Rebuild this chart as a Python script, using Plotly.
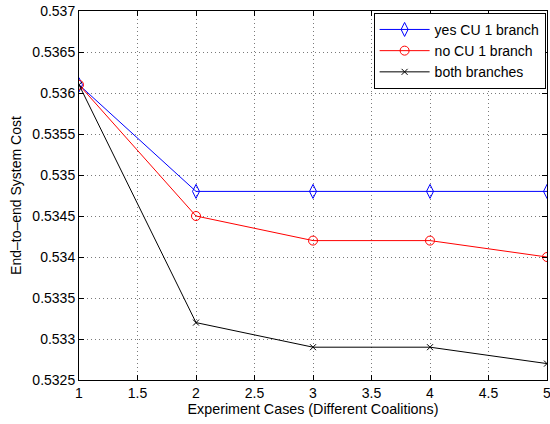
import plotly.graph_objects as go

cases = [1, 2, 3, 4, 5]
yes_cu = [0.5361, 0.5348, 0.5348, 0.5348, 0.5348]
no_cu = [0.5361, 0.5345, 0.5342, 0.5342, 0.5340]
both = [0.5361, 0.5332, 0.5329, 0.5329, 0.5327]

xticks = [1, 1.5, 2, 2.5, 3, 3.5, 4, 4.5, 5]
xticklabels = ["1", "1.5", "2", "2.5", "3", "3.5", "4", "4.5", "5"]
yticks = [0.5325, 0.533, 0.5335, 0.534, 0.5345, 0.535, 0.5355, 0.536, 0.5365, 0.537]
yticklabels = ["0.5325", "0.533", "0.5335", "0.534", "0.5345", "0.535", "0.5355", "0.536", "0.5365", "0.537"]

FONT = "Liberation Sans, Arial, Helvetica"

fig = go.Figure()
fig.add_trace(go.Scatter(x=cases, y=yes_cu, mode="lines+markers", name="yes CU 1 branch",
                         line=dict(color="#0000ff", width=1),
                         marker=dict(symbol="diamond-tall-open", size=10, color="#0000ff", line=dict(width=1))))
fig.add_trace(go.Scatter(x=cases, y=no_cu, mode="lines+markers", name="no CU 1 branch",
                         line=dict(color="#ff0000", width=1),
                         marker=dict(symbol="circle-open", size=9, color="#ff0000", line=dict(width=1))))
fig.add_trace(go.Scatter(x=cases, y=both, mode="lines+markers", name="both branches",
                         line=dict(color="#000000", width=1),
                         marker=dict(symbol="x-thin-open", size=6, color="#000000", line=dict(width=1, color="#000000"))))

axis_common = dict(showline=True, linecolor="black", linewidth=1, mirror="ticks",
                   ticks="inside", ticklen=5, tickcolor="black",
                   showgrid=True, gridcolor="#7a7a7a", griddash="1px,3px", gridwidth=1,
                   zeroline=False, ticklabeloverflow="allow", automargin=False,
                   tickfont=dict(family=FONT, size=14, color="black"))

fig.update_layout(
    width=550, height=424,
    margin=dict(l=79, r=3, t=11, b=44),
    plot_bgcolor="white", paper_bgcolor="white",
    font=dict(family=FONT, size=14, color="black"),
    xaxis=dict(range=[1, 5], tickvals=xticks, ticktext=xticklabels,
               title=dict(text="Experiment Cases (Different Coalitions)", standoff=2, font=dict(size=14.3)),
               **axis_common),
    yaxis=dict(range=[0.5325, 0.537], tickvals=yticks, ticktext=yticklabels,
               title=dict(text="End\u2013to\u2013end System Cost", standoff=7, font=dict(size=14)),
               **axis_common),
    legend=dict(x=0.997, y=0.995, xanchor="right", yanchor="top",
                bordercolor="black", borderwidth=1, bgcolor="white",
                font=dict(size=14), tracegroupgap=0, itemwidth=50),
    showlegend=True,
)

fig.write_html("out.html",
               config={"displayModeBar": False},
               post_script="document.body.style.margin='0';document.body.style.overflow='hidden';")
